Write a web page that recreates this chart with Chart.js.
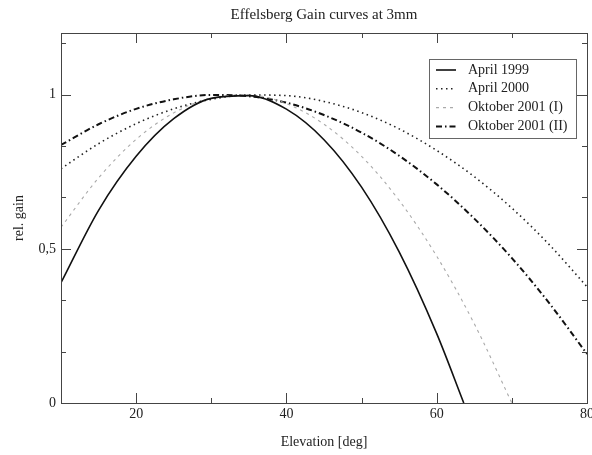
<!DOCTYPE html>
<html><head><meta charset="utf-8">
<script src="https://cdn.jsdelivr.net/npm/chart.js@4/dist/chart.umd.min.js"></script>
<style>
html,body{margin:0;padding:0;overflow:hidden;background:#fff;width:592px;height:455px}
#wrap{width:620px;height:455px}
</style></head>
<body><div id="wrap"><canvas id="c" width="620" height="455"></canvas></div>
<script>
const seriesNames = ['April 1999', 'April 2000', 'Oktober 2001 (I)', 'Oktober 2001 (II)'];
const elevApril1999 = [10, 15, 20, 25, 30, 35, 40, 45, 50, 55, 60, 63.6];
const gainApril1999 = [0.39, 0.625, 0.80, 0.922, 0.988, 0.997, 0.953, 0.854, 0.70, 0.49, 0.225, 0];
const elevApril2000 = [10, 15, 20, 25, 30, 35, 40, 45, 50, 55, 60, 65, 70, 75, 80];
const gainApril2000 = [0.76, 0.841, 0.906, 0.954, 0.985, 0.999, 0.997, 0.978, 0.942, 0.889, 0.819, 0.734, 0.632, 0.513, 0.377];
const elevOkt2001a = [10, 15, 20, 25, 30, 35, 40, 45, 50, 55, 60, 65, 70];
const gainOkt2001a = [0.57, 0.73, 0.855, 0.941, 0.989, 0.999, 0.971, 0.904, 0.80, 0.657, 0.476, 0.257, 0];
const elevOkt2001b = [10, 15, 20, 25, 30, 35, 40, 45, 50, 55, 60, 65, 70, 75, 80];
const gainOkt2001b = [0.837, 0.904, 0.954, 0.985, 0.999, 0.995, 0.974, 0.934, 0.877, 0.802, 0.709, 0.598, 0.470, 0.323, 0.159];
const xMajorTicks = [20, 40, 60, 80];
const xMinorTicks = [30, 50, 70];
const yMajorTicks = [0, 0.5, 1];
const yMinorTicks = [0.1667, 0.3333, 0.6667, 0.8333, 1.1667];

const toPts = (xs, ys) => xs.map((x, i) => ({x: x, y: ys[i]}));
const styles = [
  {color: '#111', width: 1.6, dash: []},
  {color: '#222', width: 1.6, dash: [1.5, 3.5]},
  {color: '#aaa', width: 1.1, dash: [3, 4]},
  {color: '#111', width: 2, dash: [6, 3, 1.5, 3]}
];
const allX = [elevApril1999, elevApril2000, elevOkt2001a, elevOkt2001b];
const allY = [gainApril1999, gainApril2000, gainOkt2001a, gainOkt2001b];

Chart.defaults.font.family = "'Liberation Serif', 'DejaVu Serif', serif";
Chart.defaults.color = '#222';

const frameAndTicks = {
  id: 'frameAndTicks',
  afterDraw(chart) {
    const {ctx, chartArea: a, scales: {x, y}} = chart;
    ctx.save();
    ctx.strokeStyle = '#444';
    ctx.lineWidth = 1;
    ctx.strokeRect(a.left + 0.5, a.top + 0.5, a.right - a.left, a.bottom - a.top);
    ctx.beginPath();
    const tx = (v, len) => {
      const px = Math.round(x.getPixelForValue(v)) + 0.5;
      ctx.moveTo(px, a.bottom); ctx.lineTo(px, a.bottom - len);
      ctx.moveTo(px, a.top); ctx.lineTo(px, a.top + len);
    };
    const ty = (v, len) => {
      const py = Math.round(y.getPixelForValue(v)) + 0.5;
      ctx.moveTo(a.left, py); ctx.lineTo(a.left + len, py);
      ctx.moveTo(a.right, py); ctx.lineTo(a.right - len, py);
    };
    xMajorTicks.forEach(v => tx(v, 10));
    xMinorTicks.forEach(v => tx(v, 5));
    yMajorTicks.forEach(v => ty(v, 10));
    yMinorTicks.forEach(v => ty(v, 5));
    ctx.stroke();

    // legend
    const bx = a.right - 158, by = a.top + 26, bw = 147, bh = 79;
    ctx.fillStyle = '#fff';
    ctx.fillRect(bx, by, bw, bh);
    ctx.strokeStyle = '#666';
    ctx.strokeRect(bx + 0.5, by + 0.5, bw, bh);
    ctx.font = "14px 'Liberation Serif', serif";
    ctx.textBaseline = 'middle';
    ctx.textAlign = 'left';
    chart.data.datasets.forEach((ds, i) => {
      const ly = by + 11 + i * 18.8;
      ctx.beginPath();
      ctx.strokeStyle = ds.borderColor;
      ctx.lineWidth = ds.borderWidth;
      ctx.setLineDash(ds.borderDash);
      ctx.moveTo(bx + 7, ly); ctx.lineTo(bx + 27, ly);
      ctx.stroke();
      ctx.setLineDash([]);
      ctx.fillStyle = '#222';
      ctx.fillText(ds.label, bx + 39, ly);
    });
    ctx.restore();
  }
};

new Chart(document.getElementById('c'), {
  type: 'line',
  data: {
    datasets: seriesNames.map((name, i) => ({
      label: name,
      data: toPts(allX[i], allY[i]),
      borderColor: styles[i].color,
      borderWidth: styles[i].width,
      borderDash: styles[i].dash,
      pointRadius: 0,
      fill: false,
      cubicInterpolationMode: 'monotone'
    }))
  },
  options: {
    responsive: false,
    animation: false,
    layout: {padding: {left: 11, right: 33, top: 0, bottom: 4}},
    plugins: {
      legend: {display: false},
      tooltip: {enabled: false},
      title: {
        display: true,
        text: 'Effelsberg Gain curves at 3mm',
        fullSize: false,
        font: {size: 15, weight: 'normal'},
        color: '#222',
        padding: {top: 6, bottom: 9}
      }
    },
    scales: {
      x: {
        type: 'linear', min: 10, max: 80,
        grid: {display: false, drawTicks: false},
        border: {display: false},
        afterBuildTicks: s => { s.ticks = xMajorTicks.map(v => ({value: v})); },
        afterFit: s => { s.height = 48; },
        ticks: {font: {size: 14}, padding: 3, maxRotation: 0, color: '#222'},
        title: {display: true, text: 'Elevation [deg]', font: {size: 14}, color: '#222', padding: 0}
      },
      y: {
        min: 0, max: 1.2,
        grid: {display: false, drawTicks: false},
        border: {display: false},
        afterBuildTicks: s => { s.ticks = yMajorTicks.map(v => ({value: v})); },
        afterFit: s => { s.width = 50; },
        ticks: {font: {size: 14}, padding: 5, color: '#222',
          callback: v => String(v).replace('.', ',')},
        title: {display: true, text: 'rel. gain', font: {size: 14}, color: '#222', padding: 0}
      }
    }
  },
  plugins: [frameAndTicks]
});
</script>
</body></html>
